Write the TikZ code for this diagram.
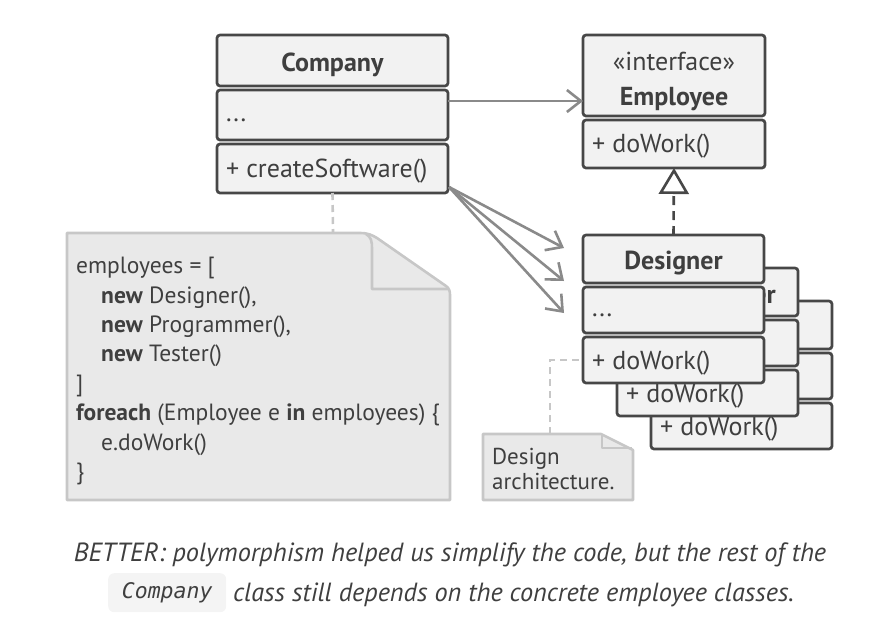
\documentclass[tikz,border=0pt]{standalone}
\usepackage{fontspec}
\setmainfont{PT Sans}
\newfontfamily\monoit{DejaVu Sans Mono}
\usetikzlibrary{arrows.meta,calc}
\definecolor{dk}{HTML}{474747}
\definecolor{txt}{HTML}{3F3F3F}
\definecolor{boxfill}{HTML}{F2F2F2}
\definecolor{arrgray}{HTML}{8A8A8A}
\definecolor{notefill}{HTML}{E9E9E9}
\definecolor{noteline}{HTML}{C7C7C7}
\definecolor{codebg}{HTML}{F4F4F4}
\begin{document}
\begin{tikzpicture}[x=1pt,y=-1pt,
  sec/.style={draw=dk, fill=boxfill, line width=2.7pt, rounded corners=3pt, inner sep=0pt, outer sep=0pt, anchor=north west},
  backing/.style={fill=boxfill, inner sep=0pt, outer sep=0pt, anchor=north west},
  lbl/.style={text=txt, font=\fontsize{26}{30}\selectfont, inner sep=0pt},
  ttl/.style={text=txt, font=\fontsize{26}{30}\selectfont\bfseries, inner sep=0pt},
  assoc/.style={draw=arrgray, line width=2.6pt, -{Straight Barb[length=14pt,width=22pt]}},
  realize/.style={draw=dk, line width=2.6pt, dash pattern=on 9pt off 6pt, -{Triangle[length=26pt,width=30pt,fill=white]}},
  notedash/.style={draw=noteline, line width=2.6pt, dash pattern=on 7pt off 5pt},
  notebody/.style={draw=noteline, fill=notefill, line width=2.6pt, line join=round},
  capt/.style={text=txt, font=\fontsize{26.3}{30}\selectfont\itshape, inner sep=0pt}
]
\useasboundingbox (0,0) rectangle (879,633);

\newcommand\dbox[3]{%
 \node[backing, minimum width=181, minimum height=148] (#1b) at (#2,#3) {};
 \node[sec, minimum width=181, minimum height=48] (#1t) at (#2,#3) {};
 \node[sec, minimum width=181, minimum height=46] (#1a) at (#2,#3+52) {};
 \node[sec, minimum width=181, minimum height=46] (#1m) at (#2,#3+102) {};
 \node[lbl, anchor=base west] (#1M) at ($(#1m.west)+(9,9)$) {+ doWork()};
}

% Company
\node[sec, minimum width=231, minimum height=51] (ct) at (217,35) {};
\node[sec, minimum width=231, minimum height=50] (ca) at (217,90) {};
\node[sec, minimum width=231, minimum height=49] (cm) at (217,144) {};
\node[ttl, anchor=base] (ctT) at ($(ct.center)+(0,11)$) {Company};
\node[lbl, anchor=base west] (caT) at ($(ca.west)+(9,6)$) {...};
\node[lbl, anchor=base west] (cmT) at ($(cm.west)+(9,8.5)$) {+ createSoftware()};

% Employee
\node[sec, minimum width=182, minimum height=81] (et) at (583,35) {};
\node[sec, minimum width=182, minimum height=48] (em) at (583,120) {};
\node[lbl, anchor=base] (eS) at ($(et.center)+(0,-5)$) {«interface»};
\node[ttl, anchor=base] (eT) at ($(et.center)+(0,30)$) {Employee};
\node[lbl, anchor=base west] (eM) at ($(em.west)+(9,8)$) {+ doWork()};

% Designer stack
\dbox{t}{651}{301}
\dbox{p}{617}{268}
\node[ttl, anchor=base east] (pT) at (776,303) {Programmer};
\dbox{d}{583}{235}
\node[ttl, anchor=base] (dT) at ($(dt.center)+(0,10)$) {Designer};
\node[lbl, anchor=base west] (dD) at ($(da.west)+(9,6)$) {...};

% association Company -> Employee
\coordinate (a0) at ($(ca.east)+(0,-14)$);
\draw[assoc] (a0) -- (a0 -| et.west);

% realization
\draw[realize] (dt.north) -- (em.south);

% dependencies to concrete classes
\coordinate (cs) at ($(cm.south east)+(1,-6)$);
\coordinate (e1) at (564,248);
\coordinate (e2) at (564,281);
\coordinate (e3) at (564,313);
\draw[assoc] (cs) -- (e1);
\draw[assoc] (cs) -- (e2);
\draw[assoc] (cs) -- (e3);

% code note
\draw[notebody] (67,233) -- (360,233) .. controls (368,233) and (372,235) .. (377,238)
  -- (446,286) .. controls (449,288) and (450,291) .. (450,295) -- (450,500) -- (67,500) -- cycle;
\draw[draw=noteline, line width=2.6pt, line join=round] (366,234) .. controls (371,237) and (372,241) .. (372,248) -- (372,289) -- (449,289);
\coordinate (ntop) at (333,233);
\draw[notedash] (cm.south) -- (ntop);
\node[lbl, anchor=north west, align=left, font=\fontsize{23.5}{29.4}\selectfont] (code) at (76,257) {employees = [\\
\hspace*{25pt}\textbf{new} Designer(),\\
\hspace*{25pt}\textbf{new} Programmer(),\\
\hspace*{25pt}\textbf{new} Tester()\\
]\\
\textbf{foreach} (Employee e \textbf{in} employees) \{\\
\hspace*{25pt}e.doWork()\\
\}};

% design note
\draw[notebody] (483,434) -- (601,434) -- (633,450) -- (633,500) -- (483,500) -- cycle;
\draw[draw=noteline, line width=2.6pt, line join=round] (602,434) -- (602,448) -- (632,448);
\coordinate (dn) at (550,434);
\draw[notedash] (dn) |- (dm.west);
\node[lbl, anchor=north west, align=left, font=\fontsize{23}{25}\selectfont] (dnote) at (492,448) {Design\\architecture.};

% caption
\node[capt, anchor=base] (cap1) at (450,561) {BETTER: polymorphism helped us simplify the code, but the rest of the};
\node[fill=codebg, rounded corners=6pt, minimum width=118, minimum height=39, anchor=north west, inner sep=0pt, text=txt, font=\fontsize{21.5}{24}\monoit\itshape] (ccode) at (108,573) {Company};
\node[capt, anchor=base west] (cap2) at (233,601) {class still depends on the concrete employee classes.};
\end{tikzpicture}
\end{document}
